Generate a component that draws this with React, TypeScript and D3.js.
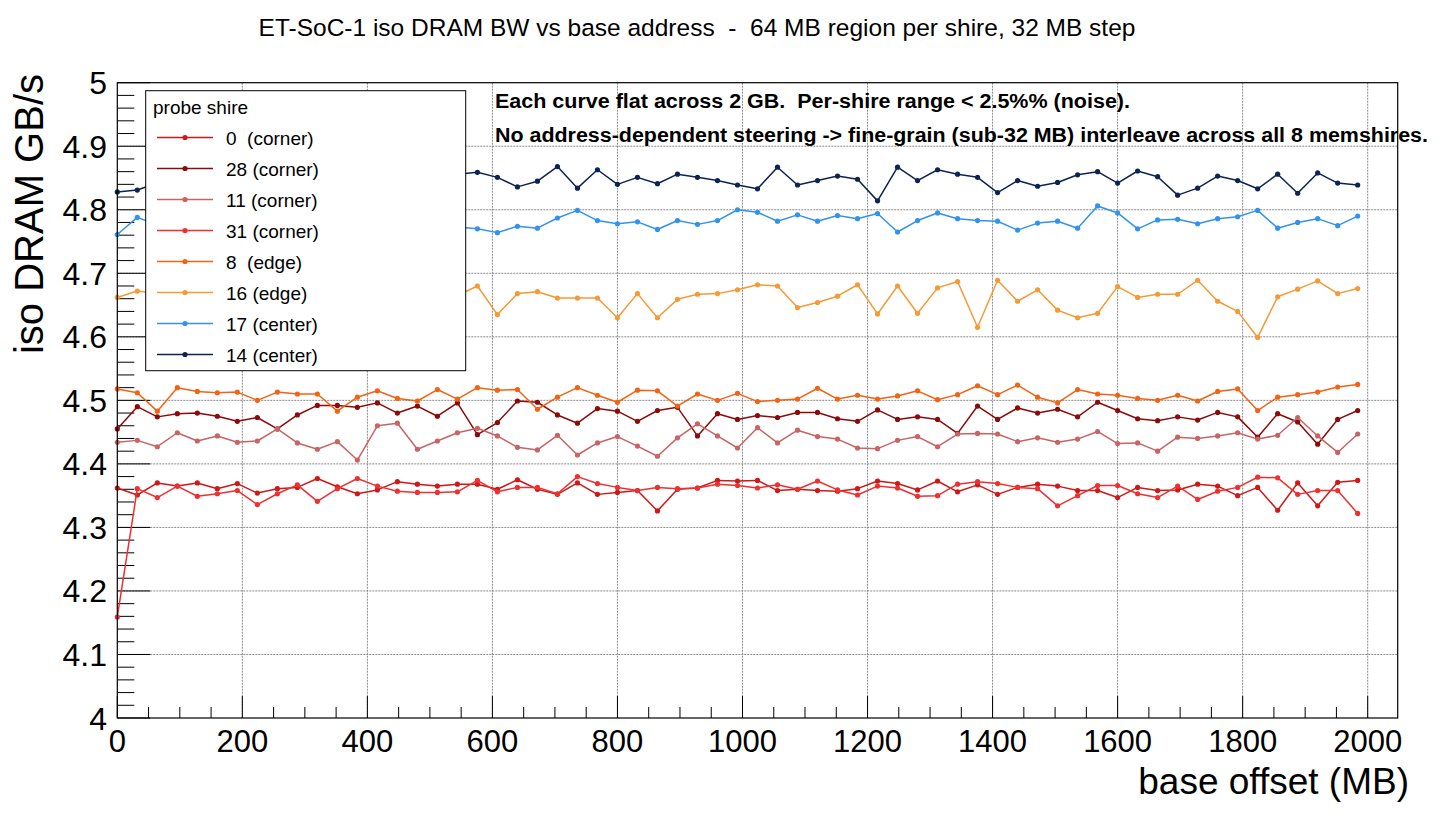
import { useEffect, useRef } from 'react';
import * as d3 from 'd3';

// base offsets (MB), 32 MB step
const offsets = [
  0, 32, 64, 96, 128, 160, 192, 224, 256, 288, 320, 352, 384, 416, 448, 480,
  512, 544, 576, 608, 640, 672, 704, 736, 768, 800, 832, 864, 896, 928, 960, 992,
  1024, 1056, 1088, 1120, 1152, 1184, 1216, 1248, 1280, 1312, 1344, 1376, 1408, 1440, 1472, 1504,
  1536, 1568, 1600, 1632, 1664, 1696, 1728, 1760, 1792, 1824, 1856, 1888, 1920, 1952, 1984,
];

const shire0 = [
  4.362, 4.351, 4.370, 4.365, 4.370, 4.361, 4.369, 4.354, 4.361, 4.363, 4.377, 4.364, 4.353, 4.359, 4.372, 4.368, 4.365, 4.368, 4.368, 4.360, 4.375, 4.360,
  4.352, 4.370, 4.352, 4.355, 4.358, 4.326, 4.360, 4.362, 4.374, 4.373, 4.374, 4.358, 4.360, 4.358, 4.357, 4.361, 4.373, 4.369, 4.359, 4.373, 4.356,
  4.367, 4.352, 4.363, 4.368, 4.365, 4.358, 4.358, 4.347, 4.363, 4.358, 4.359, 4.368, 4.365, 4.350, 4.363, 4.327, 4.370, 4.334, 4.371, 4.374,
];
const shire28 = [
  4.455, 4.490, 4.474, 4.479, 4.480, 4.475, 4.467, 4.473, 4.455, 4.477, 4.492, 4.492, 4.489, 4.496, 4.480, 4.491, 4.475, 4.496, 4.446, 4.465, 4.499, 4.497,
  4.477, 4.464, 4.487, 4.483, 4.467, 4.484, 4.489, 4.444, 4.479, 4.470, 4.476, 4.473, 4.481, 4.481, 4.471, 4.467, 4.485, 4.470, 4.474, 4.470, 4.448,
  4.491, 4.470, 4.488, 4.480, 4.486, 4.474, 4.497, 4.484, 4.471, 4.468, 4.474, 4.469, 4.481, 4.474, 4.442, 4.479, 4.466, 4.431, 4.470, 4.484,
];
const shire11 = [
  4.434, 4.437, 4.427, 4.449, 4.436, 4.444, 4.434, 4.436, 4.455, 4.433, 4.423, 4.435, 4.406, 4.460, 4.464, 4.423, 4.436, 4.449, 4.456, 4.444, 4.426, 4.422,
  4.445, 4.414, 4.433, 4.443, 4.428, 4.412, 4.441, 4.463, 4.444, 4.425, 4.457, 4.433, 4.453, 4.443, 4.439, 4.425, 4.424, 4.437, 4.443, 4.427, 4.447,
  4.448, 4.447, 4.435, 4.441, 4.434, 4.439, 4.451, 4.432, 4.433, 4.420, 4.442, 4.440, 4.444, 4.449, 4.439, 4.445, 4.473, 4.444, 4.418, 4.447,
];
const shire31 = [
  4.159, 4.361, 4.347, 4.365, 4.349, 4.353, 4.358, 4.336, 4.353, 4.367, 4.341, 4.361, 4.377, 4.365, 4.357, 4.355, 4.355, 4.356, 4.374, 4.356, 4.363, 4.363,
  4.353, 4.380, 4.369, 4.363, 4.358, 4.363, 4.361, 4.362, 4.368, 4.366, 4.362, 4.367, 4.360, 4.373, 4.359, 4.351, 4.365, 4.362, 4.349, 4.350, 4.368,
  4.372, 4.369, 4.363, 4.361, 4.334, 4.350, 4.366, 4.366, 4.353, 4.347, 4.365, 4.344, 4.357, 4.363, 4.379, 4.378, 4.352, 4.358, 4.358, 4.322,
];
const shire8 = [
  4.518, 4.512, 4.483, 4.520, 4.514, 4.512, 4.513, 4.500, 4.513, 4.510, 4.510, 4.483, 4.505, 4.515, 4.503, 4.499, 4.517, 4.502, 4.520, 4.516, 4.517, 4.486,
  4.505, 4.520, 4.508, 4.497, 4.516, 4.515, 4.491, 4.510, 4.500, 4.511, 4.498, 4.500, 4.502, 4.519, 4.502, 4.508, 4.502, 4.507, 4.515, 4.501, 4.509,
  4.523, 4.509, 4.524, 4.505, 4.496, 4.517, 4.510, 4.508, 4.503, 4.500, 4.508, 4.499, 4.514, 4.518, 4.484, 4.505, 4.509, 4.513, 4.521, 4.525,
];
const shire16 = [
  4.662, 4.672, 4.668, 4.676, 4.659, 4.671, 4.681, 4.664, 4.652, 4.674, 4.669, 4.677, 4.661, 4.683, 4.666, 4.657, 4.673, 4.665,
  4.680, 4.635, 4.668, 4.671, 4.661, 4.661, 4.661, 4.630, 4.668, 4.630, 4.659, 4.667, 4.668, 4.674, 4.682, 4.680, 4.646, 4.654, 4.664, 4.682, 4.636, 4.680, 4.637,
  4.677, 4.687, 4.615, 4.689, 4.656, 4.674, 4.642, 4.630, 4.637, 4.679, 4.662, 4.667, 4.667, 4.689, 4.656, 4.640, 4.599, 4.663, 4.675, 4.688, 4.668, 4.676,
];
const shire17 = [
  4.761, 4.788, 4.776, 4.782, 4.769, 4.791, 4.779, 4.772, 4.786, 4.794, 4.777, 4.783, 4.768, 4.789, 4.781, 4.775, 4.792, 4.773,
  4.770, 4.764, 4.774, 4.771, 4.787, 4.799, 4.783, 4.778, 4.781, 4.769, 4.783, 4.777, 4.783, 4.800, 4.796, 4.782, 4.792, 4.782, 4.791, 4.786, 4.794, 4.765, 4.783,
  4.795, 4.786, 4.783, 4.782, 4.768, 4.779, 4.782, 4.771, 4.806, 4.795, 4.770, 4.784, 4.785, 4.778, 4.786, 4.789, 4.799, 4.771, 4.780, 4.786, 4.775, 4.790,
];
const shire14 = [
  4.828, 4.831, 4.842, 4.851, 4.838, 4.855, 4.847, 4.834, 4.852, 4.861, 4.843, 4.849, 4.858, 4.839, 4.846, 4.862, 4.851, 4.856,
  4.859, 4.851, 4.836, 4.845, 4.868, 4.834, 4.863, 4.840, 4.851, 4.841, 4.856, 4.851, 4.846, 4.839, 4.833, 4.867, 4.839, 4.846, 4.853, 4.848, 4.814, 4.867, 4.846,
  4.863, 4.856, 4.851, 4.827, 4.846, 4.837, 4.843, 4.855, 4.860, 4.842, 4.861, 4.852, 4.823, 4.834, 4.853, 4.846, 4.833, 4.856, 4.826, 4.858, 4.842, 4.839,
];

const seriesLabels = ['0  (corner)', '28 (corner)', '11 (corner)', '31 (corner)', '8  (edge)', '16 (edge)', '17 (center)', '14 (center)'];
const seriesValues = [shire0, shire28, shire11, shire31, shire8, shire16, shire17, shire14];
const seriesColors = ['#d01818', '#8c0a0a', '#c86464', '#f03030', '#f06414', '#f59a35', '#3193ee', '#0c2452'];

const yMajor = [4, 4.1, 4.2, 4.3, 4.4, 4.5, 4.6, 4.7, 4.8, 4.9, 5];
const yLabels = ['4', '4.1', '4.2', '4.3', '4.4', '4.5', '4.6', '4.7', '4.8', '4.9', '5'];
const xMajor = [0, 200, 400, 600, 800, 1000, 1200, 1400, 1600, 1800, 2000];

const FONT = '"Liberation Sans", Arial, Helvetica, sans-serif';

export default function App() {
  const ref = useRef<SVGSVGElement>(null);

  useEffect(() => {
    if (!ref.current) return;
    const svg = d3.select(ref.current);
    svg.selectAll('*').remove();

    const L = 117.3, R = 1397.7, T = 82.7, B = 718;
    const x = d3.scaleLinear().domain([0, 2048]).range([L, R]);
    const y = d3.scaleLinear().domain([4, 5]).range([B, T]);

    svg.append('rect').attr('width', 1456).attr('height', 825).attr('fill', 'white');

    // title
    svg.append('text').attr('x', 697).attr('y', 36).attr('text-anchor', 'middle')
      .attr('font-size', '24.5px').attr('font-family', FONT).attr('fill', '#000')
      .style('white-space', 'pre')
      .text('ET-SoC-1 iso DRAM BW vs base address  -  64 MB region per shire, 32 MB step');

    // grid
    const grid = svg.append('g').attr('stroke', '#8a8a8a').attr('stroke-width', 1).attr('stroke-dasharray', '2,1');
    xMajor.filter(v => v > 0).forEach(v => {
      grid.append('line').attr('x1', x(v)).attr('x2', x(v)).attr('y1', T).attr('y2', B);
    });
    yMajor.filter(v => v > 4 && v < 5).forEach(v => {
      grid.append('line').attr('x1', L).attr('x2', R).attr('y1', y(v)).attr('y2', y(v));
    });

    // ticks
    const ticks = svg.append('g').attr('stroke', '#000').attr('stroke-width', 1);
    d3.range(0, 51).forEach(k => {
      const v = 4 + k * 0.02;
      const len = k % 5 === 0 ? 33 : 17;
      ticks.append('line').attr('x1', L).attr('x2', L + len).attr('y1', y(v)).attr('y2', y(v));
    });
    d3.range(0, 41).forEach(k => {
      const v = k * 50;
      const len = k % 4 === 0 ? 22 : 11;
      ticks.append('line').attr('x1', x(v)).attr('x2', x(v)).attr('y1', B).attr('y2', B - len);
    });

    // tick labels
    svg.append('g').selectAll('text').data(yMajor).enter().append('text')
      .attr('x', 107).attr('y', d => y(d) + 11.5).attr('text-anchor', 'end')
      .attr('font-size', '32px').attr('font-family', FONT).text((_, i) => yLabels[i]);
    svg.append('g').selectAll('text').data(xMajor).enter().append('text')
      .attr('x', d => x(d)).attr('y', 752).attr('text-anchor', 'middle')
      .attr('font-size', '31px').attr('font-family', FONT).text(d => String(d));

    // axis titles
    svg.append('text').attr('transform', 'translate(43,74) rotate(-90)').attr('text-anchor', 'end')
      .attr('font-size', '40px').attr('font-family', FONT).text('iso DRAM GB/s');
    svg.append('text').attr('x', 1409).attr('y', 794).attr('text-anchor', 'end')
      .attr('font-size', '37px').attr('font-family', FONT).text('base offset (MB)');

    // series
    const line = d3.line<number>().x((_, i) => x(offsets[i])).y(d => y(d));
    seriesValues.forEach((vals, s) => {
      const g = svg.append('g');
      g.append('path').attr('d', line(vals)).attr('fill', 'none')
        .attr('stroke', seriesColors[s]).attr('stroke-width', 1.5).attr('stroke-linejoin', 'round');
      g.selectAll('circle').data(vals).enter().append('circle')
        .attr('cx', (_, i) => x(offsets[i])).attr('cy', d => y(d)).attr('r', 2.6)
        .attr('fill', seriesColors[s]);
    });

    // frame
    svg.append('rect').attr('x', L).attr('y', T).attr('width', R - L).attr('height', B - T)
      .attr('fill', 'none').attr('stroke', '#000').attr('stroke-width', 1.2);

    // legend
    const lg = svg.append('g');
    lg.append('rect').attr('x', 145.7).attr('y', 90.7).attr('width', 320).attr('height', 280)
      .attr('fill', 'white').attr('stroke', '#000').attr('stroke-width', 1);
    lg.append('text').attr('x', 153).attr('y', 114).attr('font-size', '19px').attr('font-family', FONT)
      .text('probe shire');
    seriesLabels.forEach((lab, s) => {
      const cy = 137.5 + s * 31;
      lg.append('line').attr('x1', 157).attr('x2', 213).attr('y1', cy).attr('y2', cy)
        .attr('stroke', seriesColors[s]).attr('stroke-width', 1.5);
      lg.append('circle').attr('cx', 185).attr('cy', cy).attr('r', 2.6).attr('fill', seriesColors[s]);
      lg.append('text').attr('x', 226).attr('y', cy + 7).attr('font-size', '19px').attr('font-family', FONT)
        .style('white-space', 'pre').text(lab);
    });

    // note (condensed bold, squeezed to the reference width)
    svg.append('text').attr('x', 495).attr('y', 108).attr('font-size', '20px').attr('font-weight', 'bold')
      .attr('font-family', FONT).attr('textLength', 635).attr('lengthAdjust', 'spacingAndGlyphs')
      .style('white-space', 'pre').text('Each curve flat across 2 GB.  Per-shire range < 2.5%% (noise).');
    svg.append('text').attr('x', 495).attr('y', 142).attr('font-size', '20px').attr('font-weight', 'bold')
      .attr('font-family', FONT).attr('textLength', 933).attr('lengthAdjust', 'spacingAndGlyphs')
      .text('No address-dependent steering -> fine-grain (sub-32 MB) interleave across all 8 memshires.');
  }, []);

  return (
    <>
      <style>{'body{margin:0}'}</style>
      <svg ref={ref} width={1456} height={825} style={{ display: 'block' }} />
    </>
  );
}
